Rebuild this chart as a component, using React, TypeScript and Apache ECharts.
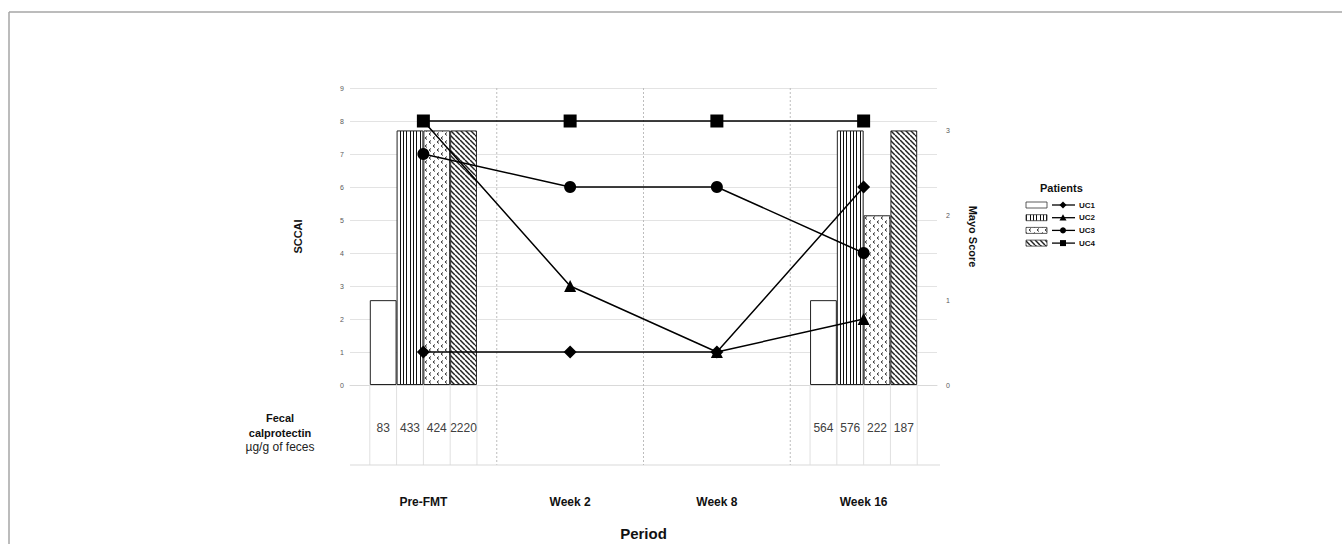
import React, { useEffect, useRef } from "react";
import * as echarts from "echarts";

const categories = ["Pre-FMT", "Week 2", "Week 8", "Week 16"];
const patients = ["UC1", "UC2", "UC3", "UC4"];

// SCCAI (left axis, lines)
const sccaiUC1 = [1, 1, 1, 6];
const sccaiUC2 = [8, 3, 1, 2];
const sccaiUC3 = [7, 6, 6, 4];
const sccaiUC4 = [8, 8, 8, 8];

// Mayo score (right axis, bars)
const mayoUC1 = [1, null, null, 1];
const mayoUC2 = [3, null, null, 3];
const mayoUC3 = [3, null, null, 2];
const mayoUC4 = [3, null, null, 3];

// Fecal calprotectin (table under bars)
const calproUC1 = [83, null, null, 564];
const calproUC2 = [433, null, null, 576];
const calproUC3 = [424, null, null, 222];
const calproUC4 = [2220, null, null, 187];

const leftTicksMax = 9;
const rightTicksMax = 3.5;

const symbols = ["diamond", "triangle", "circle", "rect"];
const FONT = "'Liberation Sans', 'Noto Sans', sans-serif";

function makeCanvas(w: number, h: number) {
  const c = document.createElement("canvas");
  c.width = w;
  c.height = h;
  const ctx = c.getContext("2d")!;
  ctx.fillStyle = "#ffffff";
  ctx.fillRect(0, 0, w, h);
  return { c, ctx };
}

function patternFor(i: number): any {
  if (i === 0) return "#ffffff";
  if (i === 1) {
    const { c, ctx } = makeCanvas(10, 10);
    ctx.fillStyle = "#111";
    [0, 3, 6].forEach((x) => ctx.fillRect(x, 0, 1, 10));
    return { image: c, repeat: "repeat" };
  }
  if (i === 2) {
    const { c, ctx } = makeCanvas(8, 8);
    ctx.strokeStyle = "#333";
    ctx.lineWidth = 1;
    const chev = (x: number, y: number) => {
      ctx.beginPath();
      ctx.moveTo(x + 2, y);
      ctx.lineTo(x, y + 1.5);
      ctx.lineTo(x + 2, y + 3);
      ctx.stroke();
    };
    chev(1, 0.5);
    chev(5, 4.5);
    return { image: c, repeat: "repeat" };
  }
  const { c, ctx } = makeCanvas(5, 5);
  ctx.strokeStyle = "#222";
  ctx.lineWidth = 1.5;
  [-5, 0, 5].forEach((k) => {
    ctx.beginPath();
    ctx.moveTo(k, 0);
    ctx.lineTo(k + 5, 5);
    ctx.stroke();
  });
  return { image: c, repeat: "repeat" };
}

export default function App() {
  const ref = useRef<HTMLDivElement>(null);

  useEffect(() => {
    if (!ref.current) return;
    const chart = echarts.init(ref.current, null, { renderer: "svg" });

    const sccai = [sccaiUC1, sccaiUC2, sccaiUC3, sccaiUC4];
    const mayo = [mayoUC1, mayoUC2, mayoUC3, mayoUC4];
    const calpro = [calproUC1, calproUC2, calproUC3, calproUC4];
    const fills = patients.map((_, i) => patternFor(i));
    const catGapRatio = 0.27;

    const barSeries = patients.map((p, i) => ({
      name: p + " Mayo",
      type: "bar",
      yAxisIndex: 1,
      data: mayo[i],
      barGap: "0%",
      barCategoryGap: "27%",
      itemStyle: { color: fills[i], borderColor: "#222", borderWidth: 1 },
      z: 2,
    }));

    const lineSeries = patients.map((p, i) => ({
      name: p,
      type: "line",
      yAxisIndex: 0,
      data: sccai[i],
      symbol: symbols[i],
      symbolSize: i === 0 ? 13 : i === 3 ? 13 : 12,
      lineStyle: { color: "#000", width: 1.5 },
      itemStyle: { color: "#000" },
      z: 5,
    }));

    const tableSeries = {
      type: "custom",
      yAxisIndex: 0,
      data: categories.map((_, i) => [i, 0]),
      z: 1,
      silent: true,
      renderItem: (params: any, api: any) => {
        const idx = params.dataIndex;
        const [cx, y0] = api.coord([idx, 0]);
        const band = api.size([1, 0])[0];
        const cs = params.coordSys;
        const tableH = 80;
        const children: any[] = [];
        const groupW = band * (1 - catGapRatio);
        const barW = groupW / patients.length;
        const start = cx - groupW / 2;
        const has = calpro.some((arr) => arr[idx] != null);
        if (has) {
          for (let k = 0; k <= patients.length; k++) {
            const x = start + k * barW;
            children.push({
              type: "line",
              shape: { x1: x, y1: y0, x2: x, y2: y0 + tableH },
              style: { stroke: "#e0e0e0", lineWidth: 1 },
            });
          }
          calpro.forEach((arr, k) => {
            if (arr[idx] == null) return;
            children.push({
              type: "text",
              style: {
                text: String(arr[idx]),
                x: start + (k + 0.5) * barW,
                y: y0 + 43,
                align: "center",
                verticalAlign: "middle",
                fill: "#404040",
                fontSize: 12,
                fontFamily: FONT,
              },
            });
          });
        }
        if (idx < categories.length - 1) {
          const xb = cx + band / 2;
          children.push({
            type: "line",
            shape: { x1: xb, y1: cs.y, x2: xb, y2: y0 + tableH },
            style: { stroke: "#bdbdbd", lineWidth: 1, lineDash: [2, 2] },
          });
        }
        if (idx === 0) {
          children.push({
            type: "line",
            shape: { x1: cs.x, y1: y0 + tableH, x2: cs.x + cs.width + 3, y2: y0 + tableH },
            style: { stroke: "#d9d9d9", lineWidth: 1 },
          });
        }
        return { type: "group", children };
      },
    };

    // Legend graphic
    const legendX = 1026;
    const legendTop = 205;
    const rowH = 12.7;
    const legendChildren: any[] = [
      {
        type: "text",
        x: 1040,
        y: 182,
        style: { text: "Patients", fontSize: 11, fontWeight: "bold", fill: "#111", fontFamily: FONT },
      },
    ];
    patients.forEach((p, i) => {
      const y = legendTop + i * rowH;
      legendChildren.push({
        type: "rect",
        shape: { x: legendX, y: y - 3, width: 21, height: 6 },
        style: { fill: fills[i], stroke: "#333", lineWidth: 0.8 },
      });
      legendChildren.push({
        type: "line",
        shape: { x1: 1052, y1: y, x2: 1075, y2: y },
        style: { stroke: "#000", lineWidth: 1.3 },
      });
      const mx = 1063;
      const s = 3.5;
      if (i === 0) {
        legendChildren.push({
          type: "polygon",
          shape: { points: [[mx, y - s], [mx + s, y], [mx, y + s], [mx - s, y]] },
          style: { fill: "#000" },
        });
      } else if (i === 1) {
        legendChildren.push({
          type: "polygon",
          shape: { points: [[mx, y - s], [mx + s, y + s * 0.8], [mx - s, y + s * 0.8]] },
          style: { fill: "#000" },
        });
      } else if (i === 2) {
        legendChildren.push({ type: "circle", shape: { cx: mx, cy: y, r: 3 }, style: { fill: "#000" } });
      } else {
        legendChildren.push({
          type: "rect",
          shape: { x: mx - 3, y: y - 3, width: 6, height: 6 },
          style: { fill: "#000" },
        });
      }
      legendChildren.push({
        type: "text",
        x: 1079,
        y: y,
        style: {
          text: p,
          fontSize: 8,
          fontWeight: "bold",
          fill: "#111",
          fontFamily: FONT,
          verticalAlign: "middle",
        },
      });
    });

    const option: any = {
      animation: false,
      backgroundColor: "#ffffff",
      textStyle: { fontFamily: FONT },
      grid: { left: 350, width: 587, top: 88, height: 297, outerBoundsMode: "none", containLabel: false },
      xAxis: {
        type: "category",
        data: categories,
        boundaryGap: true,
        axisLine: { show: true, lineStyle: { color: "#d9d9d9" } },
        axisTick: { show: false },
        axisLabel: { margin: 111, fontWeight: "bold", fontSize: 12, color: "#111", fontFamily: FONT },
        splitLine: { show: false },
        name: "Period",
        nameLocation: "middle",
        nameGap: 141,
        nameTextStyle: { fontWeight: "bold", fontSize: 15, color: "#111", fontFamily: FONT },
      },
      yAxis: [
        {
          type: "value",
          min: 0,
          max: leftTicksMax,
          interval: 1,
          axisLine: { show: false },
          axisTick: { show: false },
          axisLabel: { fontSize: 7, color: "#595959", margin: 6 },
          splitLine: { lineStyle: { color: "#e3e3e3" } },
          name: "SCCAI",
          nameLocation: "middle",
          nameGap: 47,
          nameTextStyle: { fontWeight: "bold", fontSize: 11, color: "#111", fontFamily: FONT },
        },
        {
          type: "value",
          min: 0,
          max: rightTicksMax,
          interval: 1,
          axisLine: { show: false },
          axisTick: { show: false },
          axisLabel: {
            fontSize: 7,
            color: "#595959",
            margin: 9,
            formatter: (v: number) => (Number.isInteger(v) ? String(v) : ""),
          },
          splitLine: { show: false },
          name: "Mayo Score",
          nameLocation: "middle",
          nameRotate: -90,
          nameGap: 30,
          nameTextStyle: { fontWeight: "bold", fontSize: 11, color: "#111", fontFamily: FONT },
        },
      ],
      graphic: [
        {
          type: "line",
          shape: { x1: 9, y1: 12, x2: 1342, y2: 12 },
          style: { stroke: "#a6a6a6", lineWidth: 1.5 },
        },
        {
          type: "line",
          shape: { x1: 9, y1: 12, x2: 9, y2: 544 },
          style: { stroke: "#a6a6a6", lineWidth: 1.5 },
        },
        {
          type: "text",
          x: 280,
          y: 425,
          style: {
            text: "Fecal\ncalprotectin",
            align: "center",
            verticalAlign: "middle",
            fontSize: 11,
            fontWeight: "bold",
            lineHeight: 15,
            fill: "#111",
            fontFamily: FONT,
          },
        },
        {
          type: "text",
          x: 280,
          y: 447,
          style: {
            text: "µg/g of feces",
            align: "center",
            verticalAlign: "middle",
            fontSize: 12,
            fill: "#222",
            fontFamily: FONT,
          },
        },
        { type: "group", children: legendChildren },
      ],
      series: [tableSeries, ...barSeries, ...lineSeries],
    };

    chart.setOption(option);
    return () => chart.dispose();
  }, []);

  return (
    <div
      ref={ref}
      style={{ position: "fixed", left: 0, top: 0, width: 1342, height: 544, background: "#fff" }}
    />
  );
}
